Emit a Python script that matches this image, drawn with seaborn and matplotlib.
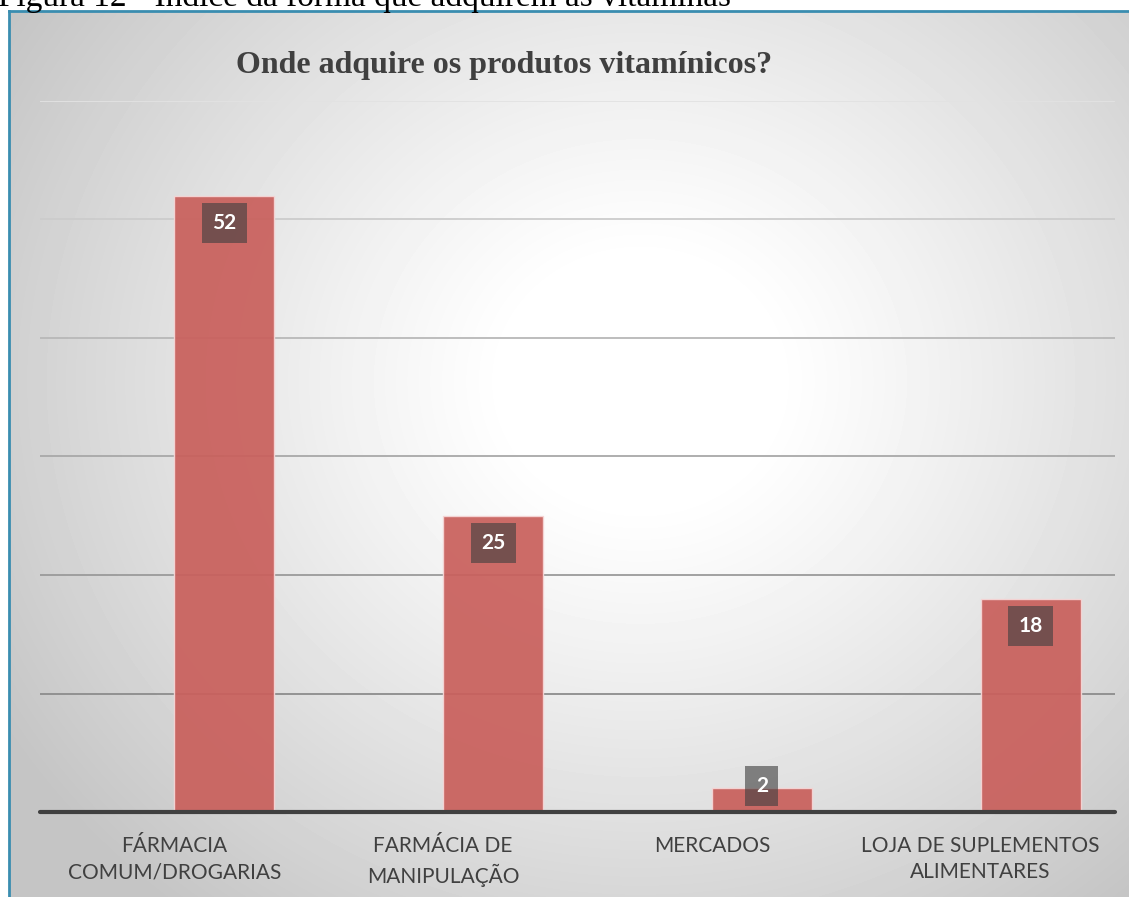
import numpy as np
import pandas as pd
import matplotlib.pyplot as plt
import seaborn as sns

categories = ["FÁRMACIA\nCOMUM/DROGARIAS", "FARMÁCIA DE\nMANIPULAÇÃO",
              "MERCADOS", "LOJA DE SUPLEMENTOS\nALIMENTARES"]
values = [52, 25, 2, 18]
grid_ticks = [10, 20, 30, 40, 50, 60]
grid_colors = ["#8c8c8c", "#9a9a9a", "#a8a8a8", "#b8b8b8", "#cccccc", "#e2e2e2"]
title = "Onde adquire os produtos vitamínicos?"
caption = "Figura 12 - Índice da forma que adquirem as vitaminas"

W, H = 1129, 897
sns.set_theme(style="white")
plt.rcParams["font.family"] = ["Lato", "DejaVu Sans"]

fig = plt.figure(figsize=(W / 100, H / 100), dpi=100)

# gradient panel behind the chart
bg = fig.add_axes([9 / W, 0, 1 - 9 / W, (H - 11) / H])
ph, pw = H - 11, W - 9
yy, xx = np.mgrid[0:ph, 0:pw]
r = np.hypot(xx - 631, (yy - 370) * 1.1) / 740
shade = 255 - 58 * np.clip((r - 0.18) / 0.82, 0, 1) ** 1.1
bg.imshow(shade, cmap="gray", vmin=0, vmax=255, aspect="auto",
          extent=(0, pw, ph, 0), interpolation="bilinear")
bg.set_xticks([])
bg.set_yticks([])
for side in ["right", "bottom"]:
    bg.spines[side].set_visible(False)
for side in ["left", "top"]:
    bg.spines[side].set_color("#3a8db0")
    bg.spines[side].set_linewidth(2)

ax = fig.add_axes([40 / W, 85 / H, 1075 / W, 711 / H])
ax.set_facecolor("none")
ax.set_zorder(2)

df = pd.DataFrame({"cat": categories, "val": values, "grp": "v"})
sns.barplot(data=df, x="cat", y="val", hue="grp", hue_order=["_", "v"],
            palette={"_": "#c9605c", "v": "#c9605c"}, saturation=1, dodge=True,
            width=0.744, alpha=0.93, edgecolor="#f6d6d6", linewidth=1,
            legend=False, ax=ax)

ax.set_xlim(-0.5, 3.5)
ax.set_ylim(0, 60)
ax.set_yticks(grid_ticks)
ax.set_yticklabels([])
ax.set_axisbelow(True)
ax.grid(axis="y", linewidth=1.3)
ax.grid(axis="x", visible=False)
for line, c in zip(ax.get_ygridlines(), grid_colors):
    line.set_color(c)
ax.axhline(0, color="#404040", lw=3, clip_on=False, zorder=5)
for s in ax.spines.values():
    s.set_visible(False)
ax.set_xlabel("")
ax.set_ylabel("")
ax.tick_params(axis="x", length=0, pad=17, labelsize=15, labelcolor="#404040")
ax.tick_params(axis="y", length=0)
for lab in ax.get_xticklabels():
    lab.set_linespacing(1.42)

for i, v in enumerate(values):
    ax.text(i + 0.186, max(v - 2.3, 2.2), str(v), ha="center", va="center",
            color="white", fontweight="bold", fontsize=15, zorder=6,
            bbox=dict(boxstyle="square,pad=0.5", fc="#404040", ec="none", alpha=0.62))

fig.text(504 / W, 1 - 65 / H, title, family="Liberation Serif", fontweight="bold",
         fontsize=23, color="#404040", ha="center", va="center")
fig.text(-2 / W, 1 - 6 / H, caption, family="Liberation Serif", fontsize=24,
         color="black", va="baseline", ha="left")

fig.savefig("out.png", dpi=100)
